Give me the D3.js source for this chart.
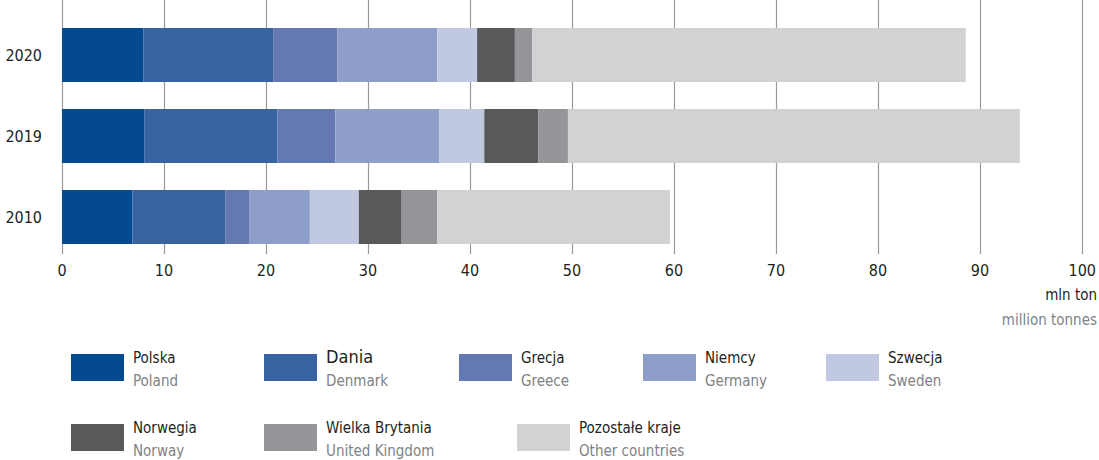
<!DOCTYPE html>
<html>
<head>
<meta charset="utf-8">
<script src="https://cdn.jsdelivr.net/npm/d3@7"></script>
<style>
  body { margin: 0; background: #fff; }
  svg text { font-family: "Liberation Sans Narrow", "DejaVu Sans Condensed", sans-serif; }
</style>
</head>
<body>
<svg id="chart" width="1099" height="460"></svg>
<script>
// years, top to bottom
const years = ["2020", "2019", "2010"];

// series names (Polish / English)
const seriesPl = ["Polska", "Dania", "Grecja", "Niemcy", "Szwecja", "Norwegia", "Wielka Brytania", "Pozostałe kraje"];
const seriesEn = ["Poland", "Denmark", "Greece", "Germany", "Sweden", "Norway", "United Kingdom", "Other countries"];
const colors = ["#034a90", "#3862a0", "#6479b1", "#8d9fc9", "#c0c8e2", "#58595b", "#939598", "#d1d2d4"];

// mln tonnes per year, same order as years
const polska   = [8.0, 8.1, 6.9];
const dania    = [12.7, 13.0, 9.1];
const grecja   = [6.3, 5.7, 2.4];
const niemcy   = [9.8, 10.2, 5.9];
const szwecja  = [3.9, 4.4, 4.8];
const norwegia = [3.7, 5.3, 4.2];
const wBryt    = [1.7, 2.9, 3.5];
const pozost   = [42.5, 44.3, 22.8];

const xTicks = [0, 10, 20, 30, 40, 50, 60, 70, 80, 90, 100];

const series = [polska, dania, grecja, niemcy, szwecja, norwegia, wBryt, pozost];

// table for d3.stack
const rows = years.map((y, i) => {
  const r = { year: y };
  seriesPl.forEach((k, j) => r[k] = series[j][i]);
  return r;
});

const svg = d3.select("#chart");

const x = d3.scaleLinear().domain([0, 100]).range([62, 1082]);
const y = d3.scaleBand().domain(years).range([28, 244]).paddingInner(1 / 3).paddingOuter(0);

// grid lines
svg.append("g")
  .selectAll("line")
  .data(xTicks)
  .join("line")
  .attr("x1", d => x(d) + 0.5)
  .attr("x2", d => x(d) + 0.5)
  .attr("y1", 0)
  .attr("y2", 254)
  .attr("stroke", "#9a9a9a")
  .attr("stroke-width", 1.2);

// stacked bars
const stacked = d3.stack().keys(seriesPl)(rows);

svg.append("g")
  .selectAll("g")
  .data(stacked)
  .join("g")
  .attr("fill", (d, i) => colors[i])
  .selectAll("rect")
  .data(d => d)
  .join("rect")
  .attr("x", d => x(d[0]))
  .attr("width", d => x(d[1]) - x(d[0]))
  .attr("y", d => y(d.data.year))
  .attr("height", y.bandwidth());

// x tick labels
svg.append("g")
  .selectAll("text")
  .data(xTicks)
  .join("text")
  .attr("x", d => x(d))
  .attr("y", 276)
  .attr("text-anchor", d => d === 100 ? "end" : "middle")
  .attr("dx", d => d === 100 ? 14 : 0)
  .attr("font-size", 16)
  .attr("fill", "#231f20")
  .text(d => d);

// year labels
svg.append("g")
  .selectAll("text")
  .data(years)
  .join("text")
  .attr("x", 42)
  .attr("y", d => y(d) + y.bandwidth() / 2 + 6)
  .attr("text-anchor", "end")
  .attr("font-size", 16)
  .attr("fill", "#231f20")
  .text(d => d);

// unit label
svg.append("text")
  .attr("x", 1097).attr("y", 300)
  .attr("text-anchor", "end")
  .attr("font-size", 15)
  .attr("fill", "#231f20")
  .text("mln ton");
svg.append("text")
  .attr("x", 1097).attr("y", 325)
  .attr("text-anchor", "end")
  .attr("font-size", 15)
  .attr("fill", "#808285")
  .text("million tonnes");

// legend layout
const legendPos = [
  [71, 354], [264, 354], [459, 354], [643, 354], [826, 354],
  [71, 424], [264, 424], [517, 424]
];

const legend = svg.append("g")
  .selectAll("g")
  .data(seriesPl)
  .join("g")
  .attr("transform", (d, i) => `translate(${legendPos[i][0]},${legendPos[i][1]})`);

legend.append("rect")
  .attr("width", 53)
  .attr("height", 27)
  .attr("fill", (d, i) => colors[i]);

legend.append("text")
  .attr("x", 62)
  .attr("y", 9)
  .attr("font-size", (d, i) => i === 1 ? 18 : 15)
  .attr("fill", "#231f20")
  .text(d => d);

legend.append("text")
  .attr("x", 62)
  .attr("y", 32)
  .attr("font-size", 15)
  .attr("fill", "#808285")
  .text((d, i) => seriesEn[i]);
</script>
</body>
</html>
